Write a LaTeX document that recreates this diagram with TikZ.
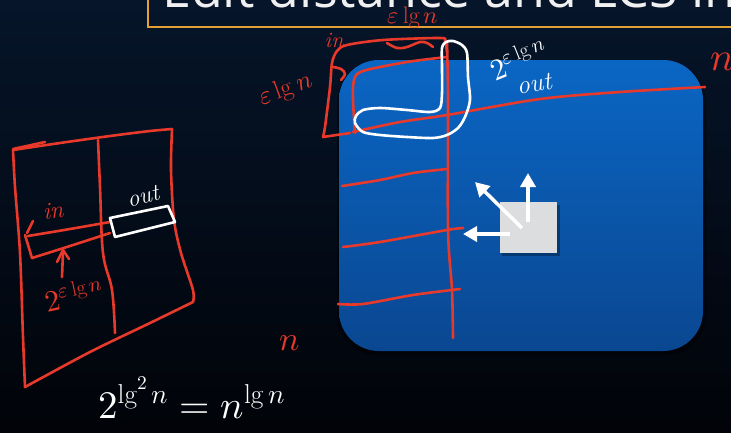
\documentclass[tikz,border=0pt]{standalone}
\usepackage{fontspec}
\usepackage{unicode-math}
\setmathfont{Latin Modern Math}
\newfontfamily\titlefont{Open Sans}
\usetikzlibrary{arrows.meta}
\definecolor{ink}{HTML}{E8392A}
\definecolor{orng}{HTML}{E2A035}
\definecolor{bgtop}{HTML}{06152A}
\definecolor{bgbot}{HTML}{010308}
\definecolor{bluetop}{HTML}{0A66C4}
\definecolor{bluebot}{HTML}{0A4791}
\definecolor{tile}{HTML}{DCDDDF}
\tikzset{
  redink/.style={draw=ink, line width=2.6pt, line cap=round, line join=round},
  whiteink/.style={draw=white, line width=2.6pt, line cap=round, line join=round},
  redtext/.style={text=ink, inner sep=0pt},
  whitetext/.style={text=white, inner sep=0pt},
  warrow/.style={draw=white, line width=3.5pt, -{Triangle[width=15pt,length=14pt]}},
  hs/.style={font=\fontsize{#1}{#1}\selectfont},
}
\begin{document}
\begin{tikzpicture}[x=1pt,y=-1pt]
\useasboundingbox (0,0) rectangle (731,432);
\clip (0,0) rectangle (731,432);
\shade[top color=bgtop, bottom color=bgbot] (0,0) rectangle (731,432);

% title box
\draw[orng, line width=2.6pt] (148,-20) rectangle (780,27);
\node[anchor=base west, text=white!94!black, font=\titlefont\fontsize{52}{60}\selectfont, inner sep=0pt] (title) at (162,7) {Edit distance and LCS in};

% blue panel
\fill[black, opacity=0.35, rounded corners=40pt] (337,62) rectangle (706,355);
\shade[top color=bluetop, bottom color=bluebot, rounded corners=40pt] (339,60) rectangle (703,351);

% gray tile and arrows
\fill[black, opacity=0.3] (502,205) rectangle (560,256);
\fill[tile] (500,202) rectangle (557,253);
\coordinate (upS) at (528,222);
\coordinate (upE) at (528,173);
\coordinate (dgS) at (522,228);
\coordinate (dgE) at (475,182);
\coordinate (lfS) at (510,234);
\coordinate (lfE) at (463,234);
\draw[warrow] (upS) -- (upE);
\draw[warrow] (dgS) -- (dgE);
\draw[warrow] (lfS) -- (lfE);

% ---------- left sketch ----------
\draw[redink] (13,149) -- (45,142);
\draw[redink] plot[smooth, tension=.5] coordinates {(13,150) (60,143) (110,136) (150,131) (172,129)};
\draw[redink] plot[smooth, tension=.5] coordinates {(172,129) (171,170) (174,220) (181,253) (193,290) (193,302)};
\draw[redink] plot[smooth, tension=.5] coordinates {(193,302) (150,323) (90,352) (25,387)};
\draw[redink] plot[smooth, tension=.5] coordinates {(25,387) (23,337) (20,253) (15,187) (13,150)};
\draw[redink] plot[smooth, tension=.6] coordinates {(98,140) (100,187) (103,253) (112,290) (115,333)};
% in strip
\draw[redink] plot[smooth, tension=.5] coordinates {(28,236) (70,229) (110,222)};
\draw[redink] plot[smooth, tension=.5] coordinates {(110,233) (70,246) (32,258)};
\draw[redink] (25,235) -- (32,258);
\draw[redink] (33,221) -- (27,233);
\draw[redink] (62,277) -- (63,252);
\draw[redink] (57,262) -- (63,250) -- (69,259);
\node[redtext, hs=24, rotate=5] (inL) at (53,211) {\itshape in};
\node[redtext, hs=30, rotate=12] (expL) at (74,294) {$2^{\varepsilon\lg n}$};
% out box
\draw[whiteink] (110,218) -- (168,206) -- (175,222) -- (115,237) -- cycle;
\node[whitetext, hs=24, rotate=14] (outL) at (143,196) {\itshape out};

% bottom formula
\node[whitetext, hs=39, anchor=base west] (form) at (98,418) {$2^{\lg^2 n} = n^{\lg n}$};
\node[redtext, hs=34] (nB) at (290,343) {$n$};

% ---------- top sketch ----------
\node[redtext, hs=24] (eTop) at (413,18) {$\varepsilon\lg n$};
\node[redtext, hs=22] (inT) at (334,40) {\itshape in};
\node[redtext, hs=26, rotate=20] (eLeft) at (286,90) {$\varepsilon\lg n$};
% outer red box
\draw[redink] plot[smooth, tension=.5] coordinates {(447,52) (445,41) (440,38) (383,40) (347,45) (337,51) (332,63) (330,87) (325,127) (323,137)};
\draw[redink] (323,137) -- (350,133);
\draw[redink] plot[smooth, tension=.6] coordinates {(387,43) (397,48) (407,47) (420,42) (427,43) (433,47)};
\draw[redink] plot[smooth, tension=.6] coordinates {(333,67) (341,69) (345,74) (341,80)};
% inner red box
\draw[redink] plot[smooth, tension=.5] coordinates {(355,133) (353,100) (354,80) (363,71) (407,62) (447,57)};
% main vertical
\draw[redink] plot[smooth, tension=.5] coordinates {(447,42) (448,100) (448,230) (452,290) (453,338)};
% long horizontal
\draw[redink] plot[smooth, tension=.5] coordinates {(353,132) (400,122) (447,115) (540,99) (620,92) (705,87)};
% rows
\draw[redink] plot[smooth, tension=.5] coordinates {(342,186) (380,180) (413,173) (447,169)};
\draw[redink] plot[smooth, tension=.5] coordinates {(343,247) (380,242) (447,230) (463,228)};
\draw[redink] plot[smooth, tension=.5] coordinates {(338,304) (363,304) (413,295) (460,289)};
% white L loop
\draw[whiteink] plot[smooth cycle, tension=.5] coordinates {(442,48) (446,42) (453,41) (462,45) (467,53) (468,77) (470,100) (465,117) (458,128) (447,135) (433,138) (407,137) (380,135) (363,132) (355,123) (356,116) (363,110) (380,108) (407,110) (430,112) (440,108) (442,93) (442,67)};
\node[whitetext, hs=30, rotate=22] (expT) at (518,58) {$2^{\varepsilon\lg n}$};
\node[whitetext, hs=26, rotate=10] (outT) at (534,84) {\itshape out};
\node[redtext, hs=40, anchor=base west] (nR) at (710,70) {$n$};
\end{tikzpicture}
\end{document}
